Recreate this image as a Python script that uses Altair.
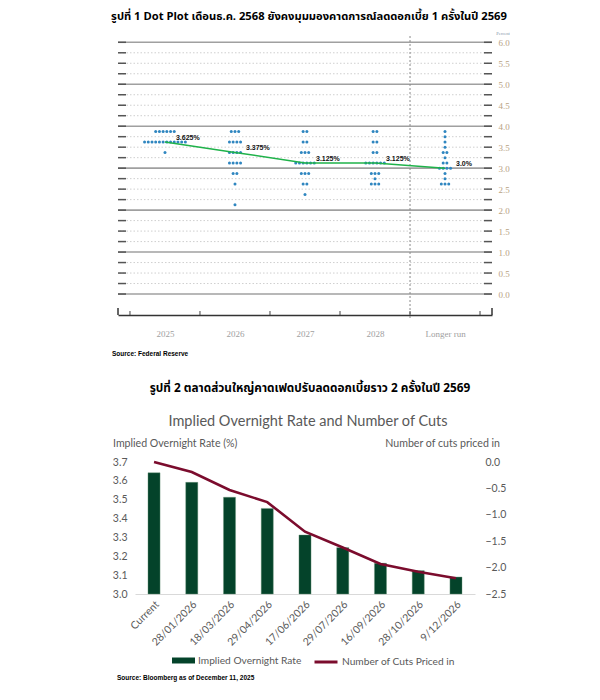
import altair as alt
import pandas as pd

# ---------------- Figure 1: FOMC dot plot (Dec 2025) ----------------
years = ["2025", "2026", "2027", "2028", "Longer run"]
levels_2025 = [3.875, 3.625, 3.375]
counts_2025 = [6, 12, 1]
levels_2026 = [3.875, 3.625, 3.375, 3.125, 2.875, 2.625, 2.125]
counts_2026 = [3, 4, 4, 4, 2, 1, 1]
levels_2027 = [3.875, 3.625, 3.375, 3.125, 2.875, 2.625, 2.375]
counts_2027 = [2, 2, 3, 6, 3, 2, 1]
levels_2028 = [3.875, 3.625, 3.375, 3.125, 2.875, 2.75, 2.625]
counts_2028 = [2, 2, 2, 6, 3, 1, 3]
levels_lr = [3.875, 3.75, 3.625, 3.5, 3.375, 3.25, 3.125, 3.0, 2.875, 2.75, 2.625]
counts_lr = [1, 1, 1, 1, 2, 1, 2, 4, 1, 1, 3]
medians = [3.625, 3.375, 3.125, 3.125, 3.0]
median_labels = ["3.625%", "3.375%", "3.125%", "3.125%", "3.0%"]
y_labels_1 = [0.0, 0.5, 1.0, 1.5, 2.0, 2.5, 3.0, 3.5, 4.0, 4.5, 5.0, 5.5, 6.0]
grid_levels = [i * 0.25 for i in range(25)]
boundaries = [-0.5, 0.5, 1.5, 2.5, 3.5, 4.5]
x_ends = [-0.671, 4.671]

title1 = "รูปที่ 1 Dot Plot เดือนธ.ค. 2568 ยังคงมุมมองคาดการณ์ลดดอกเบี้ย 1 ครั้งในปี 2569"
source1 = "Source: Federal Reserve"

# ---------------- Figure 2: implied overnight rate ----------------
dates = ["Current", "28/01/2026", "18/03/2026", "29/04/2026", "17/06/2026",
         "29/07/2026", "16/09/2026", "28/10/2026", "9/12/2026"]
implied_rate = [3.643, 3.592, 3.513, 3.454, 3.313, 3.246, 3.163, 3.124, 3.090]
cuts_priced = [0.0, -0.19, -0.53, -0.76, -1.32, -1.62, -1.93, -2.08, -2.20]
left_ticks_2 = [3.0, 3.1, 3.2, 3.3, 3.4, 3.5, 3.6, 3.7]
right_ticks_2 = [0.0, -0.5, -1.0, -1.5, -2.0, -2.5]
series_bar = "Implied Overnight Rate"
series_line = "Number of Cuts Priced in"

title2 = "รูปที่ 2 ตลาดส่วนใหญ่คาดเฟดปรับลดดอกเบี้ยราว 2 ครั้งในปี 2569"
chart_title2 = "Implied Overnight Rate and Number of Cuts"
left_title2 = "Implied Overnight Rate (%)"
right_title2 = "Number of cuts priced in"
source2 = "Source: Bloomberg as of December 11, 2025"

THAI = "Noto Sans Thai, Noto Sans Thai UI, Noto Sans, sans-serif"
CAL = "Lato"
GREY = "#595959"

# ---------- build tables ----------
DOT_STEP = 0.053
all_levels = [levels_2025, levels_2026, levels_2027, levels_2028, levels_lr]
all_counts = [counts_2025, counts_2026, counts_2027, counts_2028, counts_lr]
rows = []
for i, (lv, ct) in enumerate(zip(all_levels, all_counts)):
    for level, n in zip(lv, ct):
        for j in range(n):
            rows.append({"col": i + (j - (n - 1) / 2) * DOT_STEP, "rate": level})
dots_df = pd.DataFrame(rows)
med_df = pd.DataFrame({"col": list(range(len(years))), "median": medians, "label": median_labels})
grid_df = pd.DataFrame({"level": grid_levels,
                        "major": [float(v).is_integer() for v in grid_levels]})
bound_df = pd.DataFrame({"b": boundaries})
ends_df = pd.DataFrame({"b": x_ends})

W1, H1 = 374, 279
xs1 = alt.Scale(domain=x_ends, nice=False, zero=False)
ys1 = alt.Scale(domain=[-0.5, 6.15], nice=False, zero=False)

label_expr = "[" + ",".join("'" + y + "'" for y in years) + "][datum.value]"
XAX1 = alt.Axis(values=list(range(len(years))), labelExpr=label_expr, ticks=False,
                domainColor="#333333", domainWidth=1.5, labelFont="Liberation Serif",
                labelColor="#a0a0a0", labelFontSize=9, labelPadding=14, grid=False, title=None)
YAX1 = alt.Axis(orient="right", values=y_labels_1, format=".1f", ticks=False,
                domain=False, grid=False, labelFont="Liberation Serif",
                labelColor="#b8a283", labelFontSize=9, labelPadding=6, title=None)

def X1(f):
    return alt.X(f, scale=xs1, axis=XAX1, title=None)

def Y1(f):
    return alt.Y(f, scale=ys1, axis=YAX1, title=None)

anchor = alt.Chart(pd.DataFrame({"a": [0]})).mark_rule(opacity=0, strokeWidth=0).encode(
    x=alt.value(-110), x2=alt.value(-110), y=alt.value(-28), y2=alt.value(-28))

minor = alt.Chart(grid_df).transform_filter("!datum.major").mark_rule(
    color="#cfcfcf", strokeDash=[1.5, 2], strokeWidth=1).encode(y=Y1("level:Q"))
major = alt.Chart(grid_df).transform_filter("datum.major").mark_rule(
    color="#a0a0a0", strokeWidth=1.6).encode(y=Y1("level:Q"))
lticks = alt.Chart(grid_df).mark_rule(color="#555555", strokeWidth=1.5).encode(
    y=Y1("level:Q"), x=alt.value(0), x2=alt.value(8))
rticks = alt.Chart(grid_df).mark_rule(color="#555555", strokeWidth=1.5).encode(
    y=Y1("level:Q"), x=alt.value(W1 - 8), x2=alt.value(W1))
sep = alt.Chart(bound_df).transform_filter(alt.datum.b == boundaries[-2]).mark_rule(
    color="#8a8a8a", strokeDash=[2, 2], strokeWidth=1).encode(
    x=X1("b:Q"), y=alt.value(0), y2=alt.value(H1 + 3))
bticks = alt.Chart(bound_df).mark_rule(color="#444444", strokeWidth=1).encode(
    x=X1("b:Q"), y=alt.value(H1), y2=alt.value(H1 - 4))
caps = alt.Chart(ends_df).mark_rule(color="#333333", strokeWidth=1.5).encode(
    x=X1("b:Q"), y=alt.value(H1), y2=alt.value(H1 - 7))

dots = alt.Chart(dots_df).mark_circle(size=9, color="#2f86c0", opacity=1).encode(
    x=X1("col:Q"), y=Y1("rate:Q"))
med_line = alt.Chart(med_df).mark_line(color="#1fb24a", strokeWidth=1.5).encode(
    x=X1("col:Q"), y=Y1("median:Q"))
med_text = alt.Chart(med_df).mark_text(align="left", baseline="middle", dx=11, dy=-4,
                                       fontSize=7, fontWeight="bold", font="Liberation Sans",
                                       color="#111111").encode(
    x=X1("col:Q"), y=Y1("median:Q"), text="label:N")

def txt(s, x, y, **kw):
    return alt.Chart(pd.DataFrame({"t": [s]})).mark_text(**kw).encode(
        text="t:N", x=alt.value(x), y=alt.value(y))

t1 = txt(title1, 191, -19, align="center", baseline="middle", fontSize=11.2,
         fontWeight="bold", font=THAI, color="#000000")
s1 = txt(source1, -6, 318, align="left", baseline="middle", fontSize=6.5,
         fontWeight="bold", font="Liberation Sans", color="#000000")
pct = txt("Percent", 385, -2, align="center", baseline="middle", fontSize=4.5,
          font="Liberation Serif", color="#8595aa")

top = alt.layer(anchor, minor, major, lticks, rticks, sep, bticks, caps, dots,
                med_line, med_text, t1, s1, pct).properties(width=W1, height=H1)

# ---------- panel 2 ----------
W2, H2 = 340, 132
df2 = pd.DataFrame({"date": dates, "rate": implied_rate, "cuts": cuts_priced,
                    "s1": series_bar, "s2": series_line})
xs2 = alt.Scale(domain=dates, paddingInner=0.68, paddingOuter=0.344)
XAX2 = alt.Axis(labelAngle=-45, ticks=False, domainColor="#d9d9d9", domainWidth=1,
                labelColor=GREY, labelFont=CAL, labelFontSize=10.5, labelPadding=5, title=None)

bars = alt.Chart(df2).mark_bar(stroke="#6f9a7e", strokeWidth=0.4).encode(
    x=alt.X("date:N", scale=xs2, axis=XAX2, sort=dates, title=None),
    y=alt.Y("rate:Q", scale=alt.Scale(domain=[3.0, 3.7], nice=False, zero=False),
            axis=alt.Axis(values=left_ticks_2, format=".1f", ticks=False, domain=False,
                          grid=False, labelColor=GREY, labelFont=CAL, labelFontSize=10.5,
                          labelPadding=8, title=None)),
    y2=alt.datum(3.0),
    fill=alt.Fill("s1:N", scale=alt.Scale(domain=[series_bar], range=["#04432a"]),
                  legend=alt.Legend(orient="none", legendX=37, legendY=187, title=None,
                                    symbolType="M-1,-0.26L1,-0.26L1,0.26L-1,0.26Z",
                                    symbolSize=529, symbolStrokeWidth=0, labelOffset=3,
                                    labelFont=CAL, labelFontSize=10.2, labelColor=GREY,
                                    padding=0)))
line = alt.Chart(df2).mark_line(strokeWidth=2.6).encode(
    x=alt.X("date:N", scale=xs2, axis=XAX2, sort=dates, title=None),
    y=alt.Y("cuts:Q", scale=alt.Scale(domain=[-2.5, 0.0], nice=False, zero=False),
            axis=alt.Axis(orient="right", values=right_ticks_2, format=".1f", ticks=False,
                          domain=False, grid=False, labelColor=GREY, labelFont=CAL,
                          labelFontSize=10.5, labelPadding=10, title=None)),
    stroke=alt.Stroke("s2:N", scale=alt.Scale(domain=[series_line], range=["#7b0c2d"]),
                      legend=alt.Legend(orient="none", legendX=178, legendY=187, title=None,
                                        symbolType="stroke", symbolSize=529,
                                        symbolStrokeWidth=3, labelOffset=3,
                                        labelFont=CAL, labelFontSize=10.2, labelColor=GREY,
                                        padding=0)))

t2 = txt(title2, 175, -74, align="center", baseline="middle", fontSize=11.8,
         fontWeight="bold", font=THAI, color="#000000")
ct2 = txt(chart_title2, 173, -40, align="center", baseline="middle", fontSize=14.5,
          font=CAL, color=GREY)
lt2 = txt(left_title2, -22, -18, align="left", baseline="middle", fontSize=10.6,
          font=CAL, color=GREY)
rt2 = txt(right_title2, 365, -18, align="right", baseline="middle", fontSize=10.6,
          font=CAL, color=GREY)
s2 = txt(source2, -18, 216, align="left", baseline="middle", fontSize=6.5,
         fontWeight="bold", font="Liberation Sans", color="#000000")

bottom = alt.layer(bars, line, t2, ct2, lt2, rt2, s2).resolve_scale(
    y="independent", fill="independent", stroke="independent").properties(width=W2, height=H2)

chart = alt.vconcat(top, bottom, spacing=147, center=True, bounds="flush").properties(
    padding=0).configure_view(stroke=None)

chart.save("out.html", embed_options={"renderer": "svg", "actions": False})
